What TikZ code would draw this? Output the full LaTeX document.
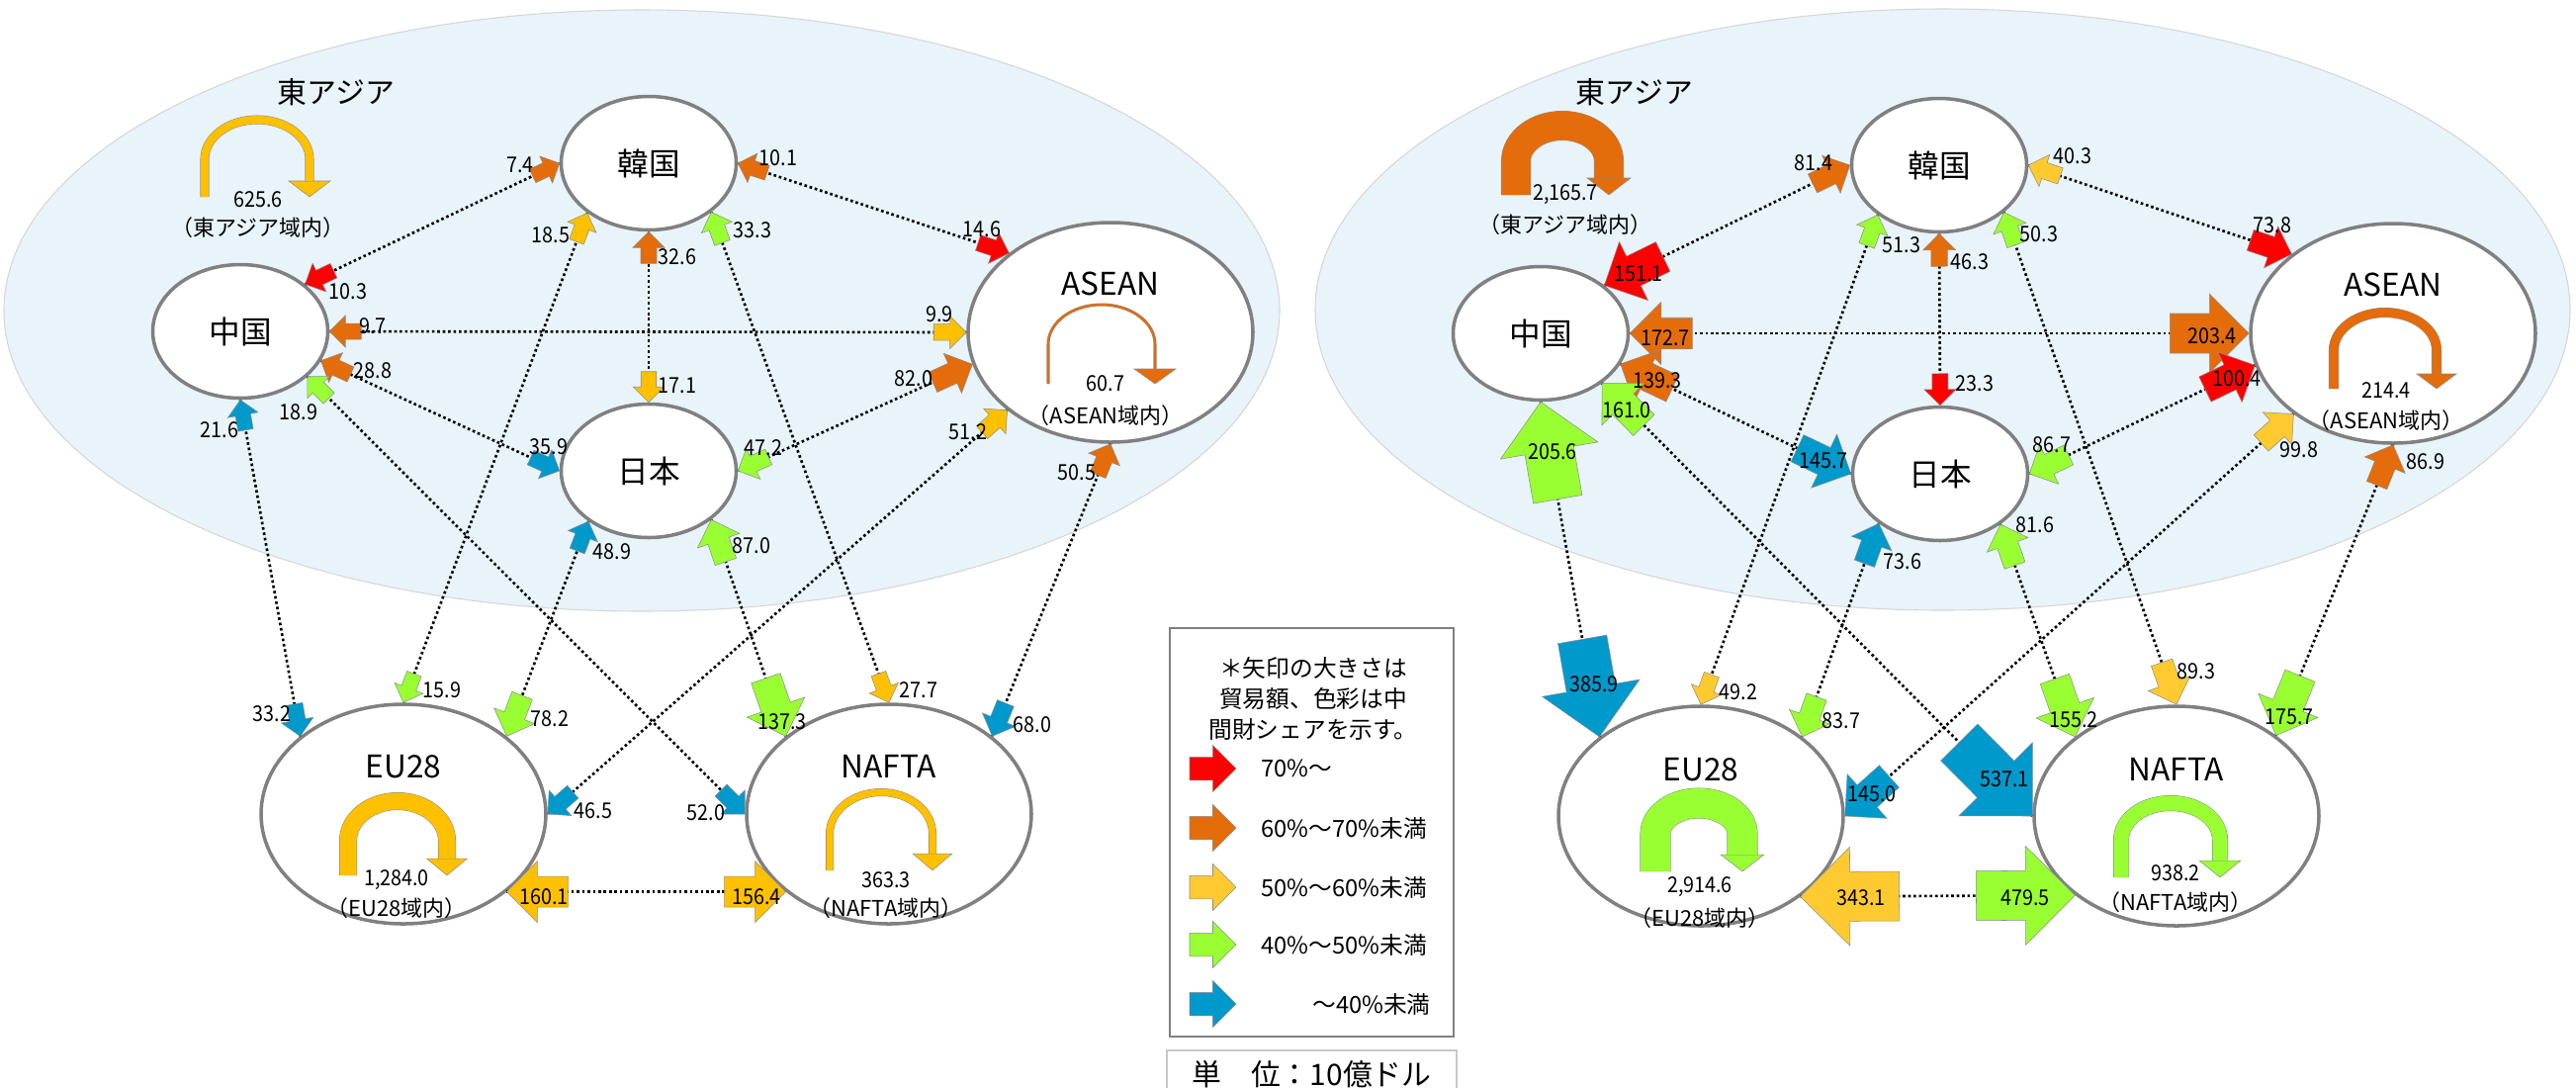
\documentclass[tikz,border=0pt]{standalone}
\usepackage{fontspec}
\setmainfont{Noto Sans CJK JP}
\newfontfamily\numfont[FakeStretch=0.9]{Noto Sans CJK JP}
\usepackage{xcolor}
\usepackage{tikz}
\usetikzlibrary{shapes.geometric, calc, positioning}

\definecolor{asiabg}{HTML}{E8F4FA}
\definecolor{asiaedge}{HTML}{D6D6D6}
\definecolor{ringgray}{HTML}{808080}
\definecolor{arrowedge}{HTML}{8C8C8C}
\definecolor{sharered}{HTML}{FF0000}
\definecolor{shareorange}{HTML}{E46C0A}
\definecolor{shareyellow}{HTML}{FFC000}
\definecolor{shareyellowb}{HTML}{FFCA2F}
\definecolor{sharegreen}{HTML}{99FF33}
\definecolor{shareblue}{HTML}{0099CC}

\tikzstyle{region} = [ellipse, fill=asiabg, draw=asiaedge, line width=0.6pt, minimum height=121.6mm]
\tikzstyle{country} = [ellipse, fill=white, draw=ringgray, line width=2pt, minimum width=35.4mm, minimum height=27mm, inner sep=0pt, font=\fontsize{18}{18}\selectfont]
\tikzstyle{bloc} = [country, minimum width=57.6mm, minimum height=44.4mm]
\tikzstyle{blocname} = [inner sep=0pt, font=\fontsize{18}{18}\selectfont]
\tikzstyle{val} = [inner sep=0pt, font=\numfont\fontsize{12.5}{12.5}\selectfont]
\tikzstyle{within} = [inner sep=0pt, font=\fontsize{12.5}{12.5}\selectfont]
\tikzstyle{trade} = [line width=1.5pt, dash pattern=on 1.5pt off 1.6pt, black]
\tikzstyle{legendbox} = [rectangle, draw=ringgray, line width=0.8pt, minimum width=57.4mm, minimum height=82.6mm]
\tikzstyle{legendtext} = [inner sep=0pt, font=\fontsize{13.5}{17.6}\selectfont]
\tikzstyle{unitbox} = [rectangle, draw=black!22, line width=1.6pt, minimum width=58.6mm, minimum height=9.6mm, inner sep=0pt, font=\fontsize{17}{17}\selectfont]

\tikzset{
  pics/barrow/.style 2 args={code={
    \filldraw[draw=arrowedge, line width=0.3pt, fill=#1]
      (0,0) -- (-#2/2,#2/2) -- (-#2/2,#2/4) -- (-#2,#2/4)
      -- (-#2,-#2/4) -- (-#2/2,-#2/4) -- (-#2/2,-#2/2) -- cycle;
  }}
}

\pgfdeclarelayer{front}
\pgfsetlayers{main,front}

% block arrow at the end #2 of the link #1--#2, value #5 written at #6
\newcounter{flowno}
\newcommand{\tradeflow}[6]{%
  \path let \p1=($(#2)-(#1)$), \n1={atan2(\y1,\x1)} in (#2) pic[rotate=\n1]{barrow={#3}{#4}};
  \stepcounter{flowno}%
  \begin{pgfonlayer}{front}
    \node[val] (v\theflowno) at (#6) {#5};
  \end{pgfonlayer}
}

% trade inside a region: centre x, arc centre y, half span, arc height,
% leg end y, head base y, band, head width, colour
\newcommand{\inregion}[9]{%
  \filldraw[draw=arrowedge, line width=0.3pt, fill=#9]
    (#1+#3-#8/2,-#6) -- (#1+#3+#8/2,-#6) -- (#1+#3,-#5) -- cycle;
  \draw[draw=arrowedge, line width=0.3pt, double=#9, double distance=#7*0.2mm]
    (#1-#3,-#5) -- (#1-#3,-#2) arc[start angle=180, end angle=0, x radius=#3*0.2mm, y radius=#4*0.2mm] -- (#1+#3,-#6);
}

\begin{document}
\begin{tikzpicture}[x=0.2mm, y=0.2mm]
    \useasboundingbox (0,0) rectangle (2605,-1099);
    \fill[white] (0,0) rectangle (2605,-1099);

    % ---------- left panel ----------
    \node[region, minimum width=258mm] (leastasia) at (649,-314) {};
    \node[blocname, font=\fontsize{17}{17}\selectfont] (leaname) at (340,-93) {東アジア};

    \node[country] (lcn) at (243,-335) {中国};
    \node[country] (lkr) at (656,-165) {韓国};
    \node[country] (ljp) at (656,-476) {日本};
    \node[bloc] (las) at (1123,-336) {};
    \node[bloc] (leu) at (408,-823) {};
    \node[bloc] (lna) at (899,-823) {};
    \node[blocname] (lasname) at ($(las)+(0,49)$) {ASEAN};
    \node[blocname] (leuname) at ($(leu)+(0,48)$) {EU28};
    \node[blocname] (lnaname) at ($(lna)+(0,48)$) {NAFTA};

    \inregion{260}{161}{53}{40}{199}{183}{8}{42}{shareyellow}
    \inregion{1114}{348}{54}{40}{388}{373}{2}{42}{shareorange}
    \inregion{402}{850}{50}{40}{885}{868}{17}{41}{shareyellow}
    \inregion{891}{843}{52}{42}{880}{863}{7}{40}{shareyellow}
    \node[val] (leasum) at (261,-202) {625.6};
    \node[within] (leain) at (261,-230) {（東アジア域内）};
    \node[val] (lassum) at (1118,-388) {60.7};
    \node[within] (lasin) at (1118,-420) {（ASEAN域内）};
    \node[val] (leusum) at (401,-890) {1,284.0};
    \node[within] (leuin) at (401,-918) {（EU28域内）};
    \node[val] (lnasum) at (896,-890) {363.3};
    \node[within] (lnain) at (896,-918) {（NAFTA域内）};

    \draw[trade] (lcn.36) -- (lkr.180);
    \draw[trade] (lcn.0) -- (las.180);
    \draw[trade] (lcn.-20) -- (ljp.180);
    \draw[trade] (lcn.-90) -- (leu.143);
    \draw[trade] (lcn.-34) -- (lna.180);
    \draw[trade] (lkr.-90) -- (ljp.90);
    \draw[trade] (lkr.0) -- (las.142);
    \draw[trade] (lkr.-141) -- (leu.90);
    \draw[trade] (lkr.-38) -- (lna.90);
    \draw[trade] (ljp.0) -- (las.-167);
    \draw[trade] (ljp.-140) -- (leu.37);
    \draw[trade] (ljp.-38) -- (lna.143);
    \draw[trade] (las.-143) -- (leu.0);
    \draw[trade] (las.-90) -- (lna.37);
    \draw[trade] (leu.-37) -- (lna.-143);

    \tradeflow{lkr.180}{lcn.36}{sharered}{32}{10.3}{352,-295}
    \tradeflow{lcn.36}{lkr.180}{shareorange}{30}{7.4}{526,-167}
    \tradeflow{las.180}{lcn.0}{shareorange}{32}{9.7}{377,-330}
    \tradeflow{lcn.0}{las.180}{shareyellow}{33}{9.9}{950,-318}
    \tradeflow{ljp.180}{lcn.-20}{shareorange}{33}{28.8}{377,-375}
    \tradeflow{lcn.-20}{ljp.180}{shareblue}{32}{35.9}{555,-452}
    \tradeflow{leu.143}{lcn.-90}{shareblue}{31}{21.6}{222,-435}
    \tradeflow{lcn.-90}{leu.143}{shareblue}{33}{33.2}{275,-722}
    \tradeflow{lna.180}{lcn.-34}{sharegreen}{31}{18.9}{302,-417}
    \tradeflow{lcn.-34}{lna.180}{shareblue}{34}{52.0}{714,-822}
    \tradeflow{ljp.90}{lkr.-90}{shareorange}{32}{32.6}{685,-260}
    \tradeflow{lkr.-90}{ljp.90}{shareyellow}{31}{17.1}{685,-390}
    \tradeflow{las.142}{lkr.0}{shareorange}{31}{10.1}{787,-160}
    \tradeflow{lkr.0}{las.142}{sharered}{33}{14.6}{993,-232}
    \tradeflow{leu.90}{lkr.-141}{shareyellow}{31}{18.5}{557,-238}
    \tradeflow{lkr.-141}{leu.90}{sharegreen}{31}{15.9}{447,-698}
    \tradeflow{lna.90}{lkr.-38}{sharegreen}{33}{33.3}{761,-233}
    \tradeflow{lkr.-38}{lna.90}{shareyellow}{31}{27.7}{929,-698}
    \tradeflow{las.-167}{ljp.0}{sharegreen}{34}{47.2}{772,-453}
    \tradeflow{ljp.0}{las.-167}{shareorange}{44}{82.0}{924,-383}
    \tradeflow{leu.37}{ljp.-140}{shareblue}{32}{48.9}{619,-558}
    \tradeflow{ljp.-140}{leu.37}{sharegreen}{44}{78.2}{556,-727}
    \tradeflow{lna.143}{ljp.-38}{sharegreen}{45}{87.0}{760,-552}
    \tradeflow{ljp.-38}{lna.143}{sharegreen}{62}{137.3}{791,-730}
    \tradeflow{leu.0}{las.-143}{shareyellow}{34}{51.2}{979,-437}
    \tradeflow{las.-143}{leu.0}{shareblue}{34}{46.5}{600,-820}
    \tradeflow{lna.37}{las.-90}{shareorange}{34}{50.5}{1089,-478}
    \tradeflow{las.-90}{lna.37}{shareblue}{36}{68.0}{1044,-733}
    \tradeflow{lna.-143}{leu.-37}{shareyellow}{62}{160.1}{550,-907}
    \tradeflow{leu.-37}{lna.-143}{shareyellow}{62}{156.4}{765,-907}

    % ---------- right panel ----------
    \node[region, minimum width=253.8mm] (reastasia) at (1964.5,-313) {};
    \node[blocname, font=\fontsize{17}{17}\selectfont] (reaname) at (1653,-93) {東アジア};

    \node[country] (rcn) at (1558,-337) {中国};
    \node[country] (rkr) at (1961,-167) {韓国};
    \node[country] (rjp) at (1962,-479) {日本};
    \node[bloc] (ras) at (2420,-337) {};
    \node[bloc] (reu) at (1720,-825) {};
    \node[bloc] (rna) at (2201,-825) {};
    \node[blocname] (rasname) at ($(ras)+(0,49)$) {ASEAN};
    \node[blocname] (reuname) at ($(reu)+(0,47)$) {EU28};
    \node[blocname] (rnaname) at ($(rna)+(0,47)$) {NAFTA};

    \inregion{1580}{163}{47}{36}{197}{180}{29}{44}{shareorange}
    \inregion{2412}{354}{52}{38}{393}{378}{9}{40}{shareorange}
    \inregion{1718}{843}{44}{31}{881}{864}{30}{44}{sharegreen}
    \inregion{2195}{849}{50}{37}{887}{870}{15}{42}{sharegreen}
    \node[val] (reasum) at (1583,-197) {2,165.7};
    \node[within] (reain) at (1583,-227) {（東アジア域内）};
    \node[val] (rassum) at (2413,-395) {214.4};
    \node[within] (rasin) at (2413,-425) {（ASEAN域内）};
    \node[val] (reusum) at (1719,-897) {2,914.6};
    \node[within] (reuin) at (1719,-928) {（EU28域内）};
    \node[val] (rnasum) at (2200,-883) {938.2};
    \node[within] (rnain) at (2200,-912) {（NAFTA域内）};

    \draw[trade] (rcn.37) -- (rkr.180);
    \draw[trade] (rcn.0) -- (ras.180);
    \draw[trade] (rcn.-21) -- (rjp.180);
    \draw[trade] (rcn.-90) -- (reu.142);
    \draw[trade] (rcn.-39) -- (rna.180);
    \draw[trade] (rkr.-90) -- (rjp.90);
    \draw[trade] (rkr.0) -- (ras.142);
    \draw[trade] (rkr.-141) -- (reu.90);
    \draw[trade] (rkr.-36) -- (rna.90);
    \draw[trade] (rjp.0) -- (ras.-167);
    \draw[trade] (rjp.-141) -- (reu.38);
    \draw[trade] (rjp.-40) -- (rna.142);
    \draw[trade] (ras.-141) -- (reu.0);
    \draw[trade] (ras.-90) -- (rna.39);
    \draw[trade] (reu.-39) -- (rna.-142);

    \tradeflow{rkr.180}{rcn.37}{sharered}{66}{151.1}{1657,-277}
    \tradeflow{rcn.37}{rkr.180}{shareorange}{42}{81.4}{1834,-165}
    \tradeflow{ras.180}{rcn.0}{shareorange}{63}{172.7}{1684,-342}
    \tradeflow{rcn.0}{ras.180}{shareorange}{80}{203.4}{2237,-340}
    \tradeflow{rjp.180}{rcn.-21}{shareorange}{58}{139.3}{1676,-385}
    \tradeflow{rcn.-21}{rjp.180}{shareblue}{60}{145.7}{1844,-466}
    \tradeflow{reu.142}{rcn.-90}{sharegreen}{100}{205.6}{1570,-457}
    \tradeflow{rcn.-90}{reu.142}{shareblue}{100}{385.9}{1612,-692}
    \tradeflow{rna.180}{rcn.-39}{sharegreen}{60}{161.0}{1645,-415}
    \tradeflow{rcn.-39}{rna.180}{shareblue}{105}{537.1}{2027,-788}
    \tradeflow{rjp.90}{rkr.-90}{shareorange}{33}{46.3}{1992,-265}
    \tradeflow{rkr.-90}{rjp.90}{sharered}{32}{23.3}{1997,-388}
    \tradeflow{ras.142}{rkr.0}{shareyellowb}{34}{40.3}{2096,-158}
    \tradeflow{rkr.0}{ras.142}{sharered}{44}{73.8}{2298,-228}
    \tradeflow{reu.90}{rkr.-141}{sharegreen}{33}{51.3}{1923,-248}
    \tradeflow{rkr.-141}{reu.90}{shareyellowb}{32}{49.2}{1758,-700}
    \tradeflow{rna.90}{rkr.-36}{sharegreen}{35}{50.3}{2062,-237}
    \tradeflow{rkr.-36}{rna.90}{shareyellowb}{45}{89.3}{2221,-679}
    \tradeflow{ras.-167}{rjp.0}{sharegreen}{44}{86.7}{2075,-450}
    \tradeflow{rjp.0}{ras.-167}{sharered}{56}{100.4}{2262,-383}
    \tradeflow{reu.38}{rjp.-141}{shareblue}{43}{73.6}{1924,-568}
    \tradeflow{rjp.-141}{reu.38}{sharegreen}{43}{83.7}{1862,-729}
    \tradeflow{rna.142}{rjp.-40}{sharegreen}{44}{81.6}{2058,-531}
    \tradeflow{rjp.-40}{rna.142}{sharegreen}{62}{155.2}{2097,-728}
    \tradeflow{reu.0}{ras.-141}{shareyellowb}{44}{99.8}{2325,-455}
    \tradeflow{ras.-141}{reu.0}{shareblue}{60}{145.0}{1893,-803}
    \tradeflow{rna.39}{ras.-90}{shareorange}{44}{86.9}{2453,-467}
    \tradeflow{ras.-90}{rna.39}{sharegreen}{65}{175.7}{2315,-725}
    \tradeflow{rna.-142}{reu.-39}{shareyellowb}{100}{343.1}{1882,-908}
    \tradeflow{reu.-39}{rna.-142}{sharegreen}{100}{479.5}{2048,-908}

    % ---------- legend ----------
    \node[legendbox] (legend) at (1326.5,-841.5) {};
    \node[legendtext, align=center] (legendnote) at (1328,-706) {＊矢印の大きさは\\貿易額、色彩は中\\間財シェアを示す。};
    \foreach \col/\y/\side/\x/\txt in {sharered/777/west/1275/70\%～,
        shareorange/837/west/1275/60\%～70\%未満,
        shareyellowb/897/west/1275/50\%～60\%未満,
        sharegreen/955/west/1275/40\%～50\%未満,
        shareblue/1015/east/1447/～40\%未満} {
      \path (1250,-\y) pic{barrow={\col}{47}};
      \node[legendtext, anchor=\side] (key\y) at (\x,-\y) {\txt};
    }
    \node[unitbox] (unit) at (1326.5,-1086) {単　位：10億ドル};
\end{tikzpicture}
\end{document}
